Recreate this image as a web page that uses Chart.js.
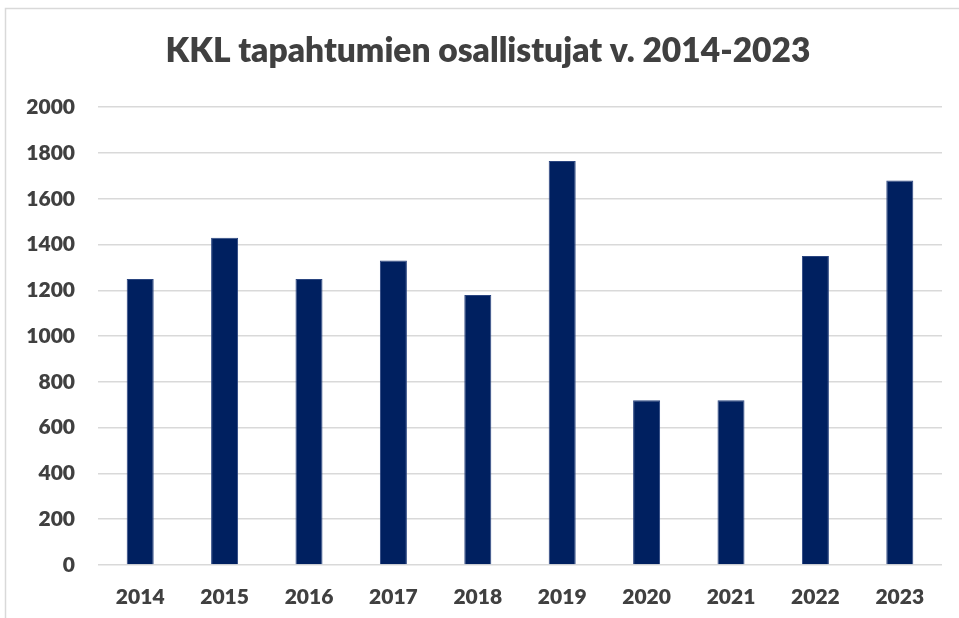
<!DOCTYPE html>
<html>
<head>
<meta charset="utf-8">
<script src="https://cdn.jsdelivr.net/npm/chart.js@4/dist/chart.umd.min.js"></script>
<style>
  html, body { margin: 0; padding: 0; background: #fff; }
  #wrap { width: 959px; height: 618px; position: relative; }
</style>
</head>
<body>
<div id="wrap"><canvas id="chart"></canvas></div>
<script>
const years = ['2014', '2015', '2016', '2017', '2018', '2019', '2020', '2021', '2022', '2023'];
const participants = [1250, 1430, 1250, 1330, 1180, 1765, 720, 720, 1350, 1680];
const yTicks = [0, 200, 400, 600, 800, 1000, 1200, 1400, 1600, 1800, 2000];
const titleText = 'KKL tapahtumien osallistujat v. 2014-2023';

const textColor = '#404040';
const gridColor = '#d9d9d9';

// light grey frame around the chart, like the Excel chart box
const framePlugin = {
    id: 'frame',
    beforeDraw(chart) {
        const ctx = chart.ctx;
        ctx.save();
        ctx.fillStyle = '#fff';
        ctx.fillRect(0, 0, chart.width, chart.height);
        ctx.strokeStyle = gridColor;
        ctx.lineWidth = 1.5;
        ctx.strokeRect(5.5, 8.5, chart.width + 10, chart.height + 10);
        ctx.restore();
    }
};

const ctx = document.getElementById('chart').getContext('2d');
new Chart(ctx, {
    type: 'bar',
    data: {
        labels: years,
        datasets: [{
            label: 'Osallistujat',
            data: participants,
            backgroundColor: '#002060',
            borderColor: '#2a4580',
            borderWidth: 1,
            barPercentage: 0.32,
            categoryPercentage: 1
        }]
    },
    options: {
        responsive: true,
        maintainAspectRatio: false,
        animation: false,
        layout: {
            padding: { left: 17, right: 0, top: 0, bottom: 0 }
        },
        plugins: {
            legend: { display: false },
            tooltip: { enabled: false },
            title: {
                display: true,
                text: titleText,
                color: textColor,
                font: { family: 'Lato', size: 33.5, weight: 800, lineHeight: 1.2 },
                padding: { top: 31, bottom: 36 }
            }
        },
        scales: {
            x: {
                afterFit: scale => {
                    scale.height = 53;
                },
                grid: { display: false, drawTicks: false },
                border: { display: false },
                ticks: {
                    color: textColor,
                    font: { family: 'Lato', size: 21, weight: 800 },
                    padding: 20,
                    maxRotation: 0
                }
            },
            y: {
                min: 0,
                max: 2000,
                afterBuildTicks: scale => {
                    scale.ticks = yTicks.map(v => ({ value: v }));
                },
                afterFit: scale => {
                    scale.width = 81;
                },
                grid: {
                    color: gridColor,
                    lineWidth: 1.5,
                    drawTicks: false
                },
                border: { display: false },
                ticks: {
                    color: textColor,
                    font: { family: 'Lato', size: 21, weight: 800 },
                    padding: 23,
                    callback: v => String(v)
                }
            },
            // empty right-hand axis, only keeps the gap on the right of the plot
            yRight: {
                position: 'right',
                afterFit: scale => {
                    scale.width = 17;
                },
                grid: { display: false, drawTicks: false },
                border: { display: false },
                ticks: { display: false }
            }
        }
    },
    plugins: [framePlugin]
});
</script>
</body>
</html>
